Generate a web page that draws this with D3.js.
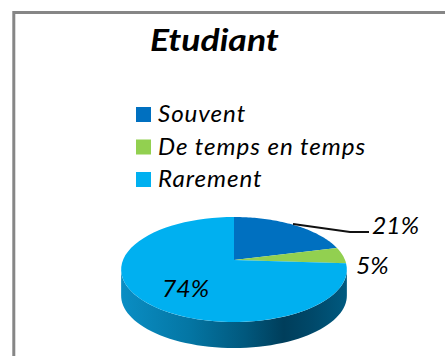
<!DOCTYPE html>
<html>
<head>
<meta charset="utf-8">
<script src="https://cdnjs.cloudflare.com/ajax/libs/d3/7.8.5/d3.min.js"></script>
<style>
  html, body { margin: 0; padding: 0; background: #fff; }
  svg { display: block; }
  text { font-family: Lato, "Open Sans", sans-serif; font-style: italic; fill: #000; }
</style>
</head>
<body>
<div id="app"></div>
<script>
const title = "Etudiant";
const categories = ["Souvent", "De temps en temps", "Rarement"];
const values = [21, 5, 74];
const colors = ["#0070c0", "#92d050", "#00b0f0"];

const width = 445, height = 356;

// pie lies on a tilted disc, apex and depth
const cx = 234, cy = 260, rx = 111, ky = 50.8, persp = 0.181, depth = 26;

const project = (a, r = 1, dy = 0) => {
  const u = r * Math.sin(a), v = r * Math.cos(a), w = 1 + persp * v;
  return [cx + rx * u / w, cy - ky * v / w + dy];
};

const svg = d3.select("#app").append("svg")
    .attr("width", width)
    .attr("height", height);

const defs = svg.append("defs");
const side = defs.append("linearGradient")
    .attr("id", "side")
    .attr("gradientUnits", "userSpaceOnUse")
    .attr("x1", cx - 113).attr("x2", cx + 113)
    .attr("y1", 0).attr("y2", 0);
side.selectAll("stop")
    .data([[0, "#0a8ec4"], [0.3, "#0476a4"], [0.55, "#01587d"], [0.72, "#003e5b"], [0.85, "#00496a"], [1, "#005a80"]])
  .enter().append("stop")
    .attr("offset", d => d[0])
    .attr("stop-color", d => d[1]);

// frame
svg.append("path")
    .attr("d", `M${width},12.5H13.8V${height}`)
    .attr("fill", "none")
    .attr("stroke", "#868686")
    .attr("stroke-width", 3);

// the reference text is stretched sideways, so scale instead of spacing
svg.append("text")
    .attr("transform", "translate(150, 51) scale(1.185, 1)")
    .style("font-size", "30px")
    .style("font-weight", 700)
    .text(title);

// legend
const legendY = d3.scalePoint().domain(categories).range([114, 179]);

const legend = svg.selectAll(".legend")
    .data(categories)
  .enter().append("g")
    .attr("class", "legend")
    .attr("transform", d => `translate(136, ${legendY(d)})`);

legend.append("rect")
    .attr("y", -7)
    .attr("width", 15)
    .attr("height", 15)
    .attr("fill", (d, i) => colors[i]);

legend.append("text")
    .attr("transform", "translate(22, 8) scale(1.05, 1)")
    .style("font-size", "23px")
    .style("letter-spacing", "0.9px")
    .text(d => d);

// pie
const arcs = d3.pie().sort(null)(values);
const line = d3.line();

const sweep = (a0, a1, r, dy) => d3.range(0, 61).map(i => project(a0 + (a1 - a0) * i / 60, r, dy));

// side wall along the front half of the disc
const frontStart = Math.PI * 0.5 + 0.18, frontEnd = Math.PI * 1.5 - 0.18;
svg.append("path")
    .attr("d", line([...sweep(frontStart, frontEnd, 1, 0), ...sweep(frontEnd, frontStart, 1, depth)]) + "Z")
    .attr("fill", "url(#side)");

svg.selectAll(".slice")
    .data(arcs)
  .enter().append("path")
    .attr("class", "slice")
    .attr("d", d => line([[cx, cy], ...sweep(d.startAngle, d.endAngle, 1, 0)]) + "Z")
    .attr("fill", (d, i) => colors[i]);

// leader line for first slice
svg.append("path")
    .attr("d", "M293,224L350,232H369")
    .attr("fill", "none")
    .attr("stroke", "#111")
    .attr("stroke-width", 2);

const labelPos = [[372, 234], [356, 274], [162, 297]];
svg.selectAll(".pct")
    .data(arcs)
  .enter().append("text")
    .attr("class", "pct")
    .attr("transform", (d, i) => `translate(${labelPos[i][0]}, ${labelPos[i][1]}) scale(1.03, 1)`)
    .style("font-size", "24px")
    .text(d => d.value + "%");
</script>
</body>
</html>
